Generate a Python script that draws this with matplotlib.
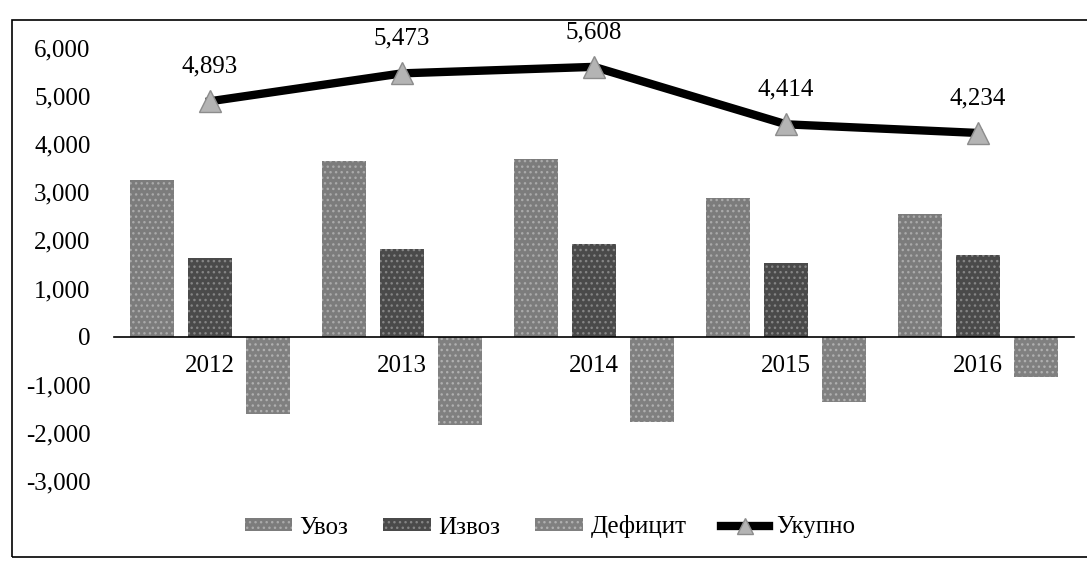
import numpy as np
import matplotlib.pyplot as plt
from matplotlib.patches import Rectangle
from matplotlib.ticker import FuncFormatter

# Подписи и значения
years = ['2012', '2013', '2014', '2015', '2016']
uvoz = [3250, 3650, 3690, 2890, 2540]
izvoz = [1643, 1823, 1918, 1524, 1694]
deficit = [-1607, -1827, -1772, -1366, -846]
ukupno = [4893, 5473, 5608, 4414, 4234]
series_names = ['Увоз', 'Извоз', 'Дефицит', 'Укупно']

plt.rcParams['font.family'] = ['Liberation Serif', 'DejaVu Serif']

W, H = 1087, 562
fig = plt.figure(figsize=(W / 100, H / 100), dpi=100)
ax = fig.add_axes([114 / W, 1 - 481 / H, (1074 - 114) / W, (481 - 48) / H])

x = np.arange(len(years))
bw = 0.23
step = 0.30

b1 = ax.bar(x - step, uvoz, bw, color='#7c7c7c', edgecolor='#aaaaaa', hatch='...',
            linewidth=0, label=series_names[0], zorder=2)
b2 = ax.bar(x, izvoz, bw, color='#4a4a4a', edgecolor='#858585', hatch='...',
            linewidth=0, label=series_names[1], zorder=2)
b3 = ax.bar(x + step, deficit, bw, color='#808080', edgecolor='#b0b0b0', hatch='...',
            linewidth=0, label=series_names[2], zorder=2)
ln, = ax.plot(x, ukupno, color='black', linewidth=6, marker='^', markersize=16,
              markerfacecolor='#b4b4b4', markeredgecolor='#8c8c8c', label=series_names[3], zorder=3)

for xi, v in zip(x, ukupno):
    ax.annotate(f'{v:,}', (xi, v), xytext=(0, 25), textcoords='offset points',
                ha='center', va='center', fontsize=18)

ax.set_xlim(-0.5, len(years) - 0.5)
ax.set_ylim(-3000, 6000)
ax.set_yticks(range(-3000, 6001, 1000))
ax.yaxis.set_major_formatter(FuncFormatter(lambda v, p: f'{v:,.0f}'))
ax.set_xticks(x)
ax.set_xticklabels(years)
ax.tick_params(axis='y', length=0, pad=17, labelsize=18)
ax.tick_params(axis='x', length=0, pad=13, labelsize=18)

for s in ['left', 'right', 'top']:
    ax.spines[s].set_visible(False)
ax.spines['bottom'].set_position(('data', 0))
ax.spines['bottom'].set_linewidth(1.2)

fig.legend([b1, b2, b3, ln], series_names, loc='center',
           bbox_to_anchor=(550 / W, 1 - 527 / H), ncol=4, frameon=False,
           fontsize=18, handlelength=1.9, handleheight=0.45, columnspacing=1.4,
           handletextpad=0.3, markerscale=0.7)

# рамка
fig.add_artist(Rectangle((12 / W, 1 - 557 / H), 1.2, (557 - 20) / H,
                         transform=fig.transFigure, fill=False, linewidth=1.2,
                         edgecolor='black', clip_on=False))

plt.savefig('out.png', dpi=100)
